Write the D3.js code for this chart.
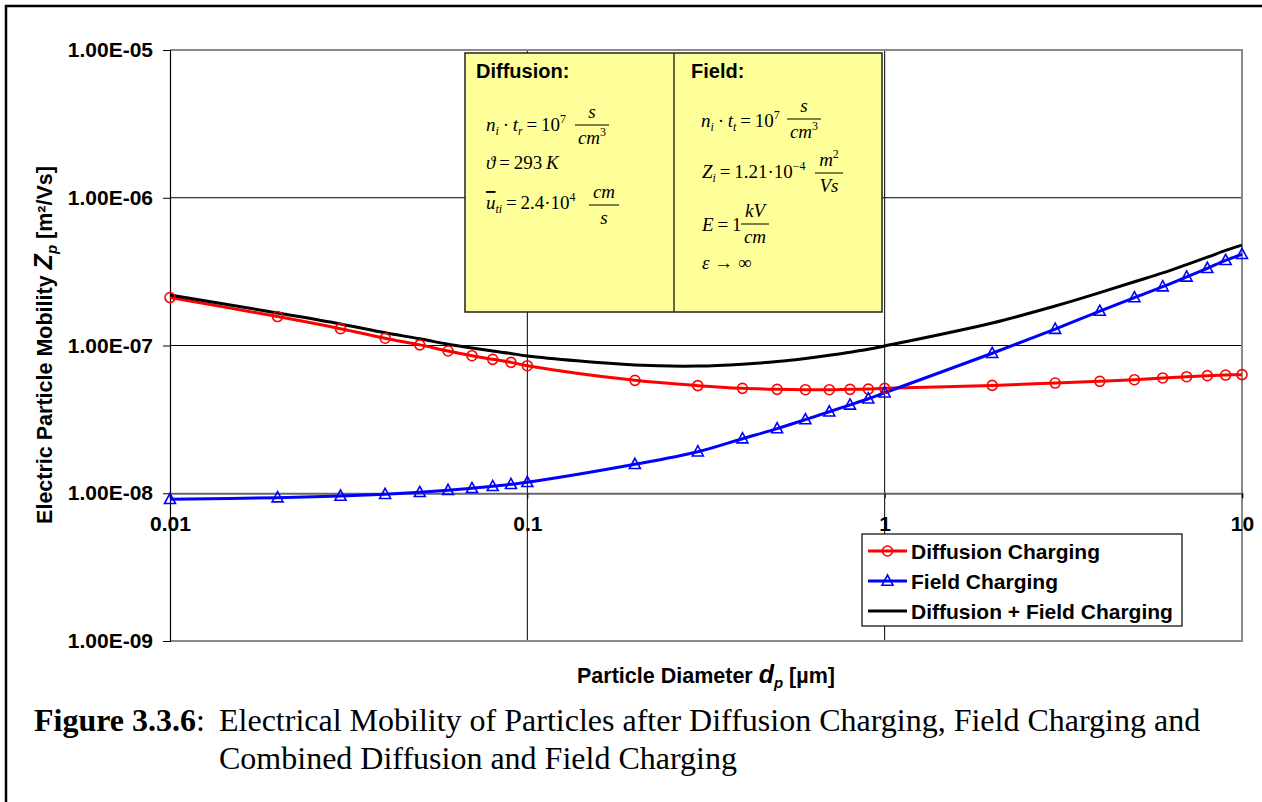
<!DOCTYPE html>
<html>
<head>
<meta charset="utf-8">
<script src="https://cdn.jsdelivr.net/npm/d3@7"></script>
<style>
  html, body { margin: 0; padding: 0; background: #fff; }
  svg { display: block; }
</style>
</head>
<body>
<script>
// Particle diameter d_p [µm]
const diameters = [0.01, 0.02, 0.03, 0.04, 0.05, 0.06, 0.07, 0.08, 0.09, 0.1,
                   0.2, 0.3, 0.4, 0.5, 0.6, 0.7, 0.8, 0.9, 1,
                   2, 3, 4, 5, 6, 7, 8, 9, 10];
// Electric mobility Z_p [m²/Vs]
const diffusionZp = [2.11e-7, 1.57e-7, 1.30e-7, 1.12e-7, 1.01e-7, 9.18e-8, 8.53e-8, 8.06e-8, 7.69e-8, 7.30e-8,
                     5.81e-8, 5.35e-8, 5.13e-8, 5.05e-8, 5.02e-8, 5.02e-8, 5.05e-8, 5.07e-8, 5.13e-8,
                     5.37e-8, 5.57e-8, 5.72e-8, 5.87e-8, 6.03e-8, 6.15e-8, 6.25e-8, 6.31e-8, 6.35e-8];
const fieldZp = [9.10e-9, 9.33e-9, 9.58e-9, 9.84e-9, 1.014e-8, 1.047e-8, 1.08e-8, 1.114e-8, 1.149e-8, 1.186e-8,
                 1.57e-8, 1.91e-8, 2.34e-8, 2.74e-8, 3.15e-8, 3.56e-8, 3.96e-8, 4.36e-8, 4.79e-8,
                 8.86e-8, 1.29e-7, 1.71e-7, 2.11e-7, 2.50e-7, 2.91e-7, 3.33e-7, 3.77e-7, 4.14e-7];
const combinedZp = [2.20e-7, 1.66e-7, 1.40e-7, 1.22e-7, 1.11e-7, 1.02e-7, 9.61e-8, 9.17e-8, 8.84e-8, 8.49e-8,
                    7.38e-8, 7.26e-8, 7.47e-8, 7.79e-8, 8.17e-8, 8.58e-8, 9.01e-8, 9.43e-8, 9.92e-8,
                    1.42e-7, 1.85e-7, 2.28e-7, 2.70e-7, 3.10e-7, 3.53e-7, 3.96e-7, 4.40e-7, 4.78e-7];

const yTicks = [1e-9, 1e-8, 1e-7, 1e-6, 1e-5];
const yTickLabels = ["1.00E-09", "1.00E-08", "1.00E-07", "1.00E-06", "1.00E-05"];
const xTicks = [0.01, 0.1, 1, 10];
const xTickLabels = ["0.01", "0.1", "1", "10"];

const seriesNames = ["Diffusion Charging", "Field Charging", "Diffusion + Field Charging"];

const W = 1262, H = 802;
const SANS = "'Liberation Sans', Arial, sans-serif";
const SERIF = "'Liberation Serif', 'Times New Roman', serif";
const TS = "\u2009"; // thin space used inside formulas

const svg = d3.select("body").append("svg").attr("width", W).attr("height", H);

// frame around the figure
svg.append("rect").attr("x", 6).attr("y", 6).attr("width", W + 20).attr("height", H + 20)
  .attr("fill", "none").attr("stroke", "#000").attr("stroke-width", 2.5);

const x = d3.scaleLog().domain([0.01, 10]).range([170, 1242]);
const y = d3.scaleLog().domain([1e-9, 1e-5]).range([641, 50]);

// grid lines
const grid = svg.append("g");
grid.selectAll(".hg").data([1e-7, 1e-6]).join("line")
  .attr("x1", x(0.01)).attr("x2", x(10))
  .attr("y1", d => y(d)).attr("y2", d => y(d))
  .attr("stroke", "#000").attr("stroke-width", 1);
grid.selectAll(".vg").data([0.1, 1]).join("line")
  .attr("x1", d => x(d)).attr("x2", d => x(d))
  .attr("y1", y(1e-5)).attr("y2", y(1e-9))
  .attr("stroke", "#000").attr("stroke-width", 1);

// plot area border (top, right, bottom)
const border = svg.append("g").attr("stroke", "#8a8a8a").attr("stroke-width", 2).attr("fill", "none");
border.append("path").attr("d", `M${x(0.01)},${y(1e-5)}H${x(10)}V${y(1e-9)}H${x(0.01)}`);

// y axis
const yAxis = svg.append("g").attr("transform", `translate(${x(0.01)},0)`)
  .call(d3.axisLeft(y).tickValues(yTicks).tickFormat((d, i) => yTickLabels[i]).tickSize(7).tickPadding(10));
yAxis.select(".domain").attr("stroke", "#000").attr("stroke-width", 1.2);
yAxis.selectAll(".tick line").attr("stroke", "#000");
yAxis.selectAll(".tick text").attr("font-family", SANS).attr("font-weight", "bold")
  .attr("font-size", 21).attr("fill", "#000");

// x axis crossing at 1e-8
const xAxis = svg.append("g").attr("transform", `translate(0,${y(1e-8)})`)
  .call(d3.axisBottom(x).tickValues(xTicks).tickFormat((d, i) => xTickLabels[i]).tickSize(5).tickPadding(18));
xAxis.select(".domain").attr("stroke", "#666").attr("stroke-width", 2);
xAxis.selectAll(".tick line").attr("stroke", "#000");
xAxis.selectAll(".tick text").attr("font-family", SANS).attr("font-weight", "bold")
  .attr("font-size", 21).attr("fill", "#000");

// axis titles
const yTitle = svg.append("text")
  .attr("transform", `translate(52,345) rotate(-90)`)
  .attr("text-anchor", "middle")
  .attr("font-family", SANS).attr("font-weight", "bold").attr("font-size", 21.5);
yTitle.append("tspan").text("Electric Particle Mobility  ");
yTitle.append("tspan").attr("font-style", "italic").attr("font-size", 25).text("Z");
yTitle.append("tspan").attr("font-style", "italic").attr("font-size", 15).attr("dy", 5).text("p");
yTitle.append("tspan").attr("dy", -5).text("  [m²/Vs]");

const xTitle = svg.append("text")
  .attr("x", 706).attr("y", 683).attr("text-anchor", "middle")
  .attr("font-family", SANS).attr("font-weight", "bold").attr("font-size", 21.5);
xTitle.append("tspan").text("Particle Diameter ");
xTitle.append("tspan").attr("font-style", "italic").attr("font-size", 25).text("d");
xTitle.append("tspan").attr("font-style", "italic").attr("font-size", 15).attr("dy", 5).text("p");
xTitle.append("tspan").attr("dy", -5).text("  [µm]");

// series
const line = d3.line().x(d => x(d[0])).y(d => y(d[1])).curve(d3.curveCatmullRom.alpha(0.5));
const series = [
  { name: seriesNames[0], values: diffusionZp, color: "#ff0000", marker: "circle" },
  { name: seriesNames[1], values: fieldZp, color: "#0000ff", marker: "triangle" },
  { name: seriesNames[2], values: combinedZp, color: "#000000", marker: null }
];

const plot = svg.append("g");
series.forEach(s => {
  const pts = diameters.map((d, i) => [d, s.values[i]]);
  plot.append("path").datum(pts).attr("d", line)
    .attr("fill", "none").attr("stroke", s.color).attr("stroke-width", 3)
    .attr("stroke-linejoin", "round");
});

function drawMarker(g, kind, cx, cy, color) {
  if (kind === "circle") {
    g.append("circle").attr("cx", cx).attr("cy", cy).attr("r", 5)
      .attr("fill", "none").attr("stroke", color).attr("stroke-width", 1.6);
  } else if (kind === "triangle") {
    g.append("path")
      .attr("d", `M${cx},${cy - 6}L${cx + 5.5},${cy + 4.2}L${cx - 5.5},${cy + 4.2}Z`)
      .attr("fill", "none").attr("stroke", color).attr("stroke-width", 1.6);
  }
}
series.forEach(s => {
  if (!s.marker) return;
  diameters.forEach((d, i) => drawMarker(plot, s.marker, x(d), y(s.values[i]), s.color));
});

// parameter box
const box = svg.append("g");
box.append("rect").attr("x", 465).attr("y", 53).attr("width", 417).attr("height", 259)
  .attr("fill", "#ffff99").attr("stroke", "#222").attr("stroke-width", 1.5);
box.append("line").attr("x1", 674).attr("x2", 674).attr("y1", 53).attr("y2", 312)
  .attr("stroke", "#333").attr("stroke-width", 1.5);
box.append("text").attr("x", 476).attr("y", 78).attr("font-family", SANS).attr("font-weight", "bold")
  .attr("font-size", 20).text("Diffusion:");
box.append("text").attr("x", 691).attr("y", 78).attr("font-family", SANS).attr("font-weight", "bold")
  .attr("font-size", 20).text("Field:");

// formula runs: [text, style] where style may contain i (italic), sub, sup, over
function formula(x0, y0, parts) {
  const t = box.append("text").attr("x", x0).attr("y", y0)
    .attr("font-family", SERIF).attr("font-size", 19).attr("fill", "#000");
  let shift = 0;
  parts.forEach(p => {
    const [txt, st = ""] = p;
    const ts = t.append("tspan").text(txt);
    let target = 0;
    if (st.includes("sub")) { target = 4; ts.attr("font-size", 12); }
    if (st.includes("sup")) { target = -8; ts.attr("font-size", 12); }
    if (target !== shift) { ts.attr("dy", target - shift); shift = target; }
    if (st.includes("i")) ts.attr("font-style", "italic");
    if (st.includes("over")) ts.attr("text-decoration", "overline");
  });
  return t;
}
function fraction(cx, yLine, num, den, w) {
  formula(cx, yLine - 7, num).attr("text-anchor", "middle");
  formula(cx, yLine + 19, den).attr("text-anchor", "middle");
  box.append("line").attr("x1", cx - w / 2).attr("x2", cx + w / 2)
    .attr("y1", yLine).attr("y2", yLine).attr("stroke", "#000").attr("stroke-width", 1);
}

// diffusion parameters
formula(486, 131, [["n", "i"], ["i", "i sub"], [TS + "·" + TS], ["t", "i"], ["r", "i sub"], [TS + "=" + TS + "10"], ["7", "sup"]]);
fraction(592, 125, [["s", "i"]], [["cm", "i"], ["3", "sup"]], 34);
formula(486, 169, [["ϑ", "i"], [TS + "=" + TS + "293" + TS], ["K", "i"]]);
formula(486, 209, [["u", "i over"], ["ti", "i sub"], [TS + "=" + TS + "2.4·10"], ["4", "sup"]]);
fraction(604, 205, [["cm", "i"]], [["s", "i"]], 30);

// field parameters
formula(701, 127, [["n", "i"], ["i", "i sub"], [TS + "·" + TS], ["t", "i"], ["t", "i sub"], [TS + "=" + TS + "10"], ["7", "sup"]]);
fraction(804, 119, [["s", "i"]], [["cm", "i"], ["3", "sup"]], 34);
formula(702, 178, [["Z", "i"], ["i", "i sub"], [TS + "=" + TS + "1.21·10"], ["−4", "sup"]]);
fraction(829, 173, [["m", "i"], ["2", "sup"]], [["Vs", "i"]], 28);
formula(702, 231, [["E", "i"], [TS + "=" + TS + "1"]]);
fraction(755, 224, [["kV", "i"]], [["cm", "i"]], 28);
formula(702, 269, [["ε", "i"], [" → ∞"]]);

// legend
const legend = svg.append("g");
legend.append("rect").attr("x", 862).attr("y", 534).attr("width", 320).attr("height", 92)
  .attr("fill", "#fff").attr("stroke", "#000").attr("stroke-width", 1.2);
series.forEach((s, i) => {
  const ly = 551 + i * 30;
  legend.append("line").attr("x1", 868).attr("x2", 907).attr("y1", ly).attr("y2", ly)
    .attr("stroke", s.color).attr("stroke-width", 3);
  if (s.marker) drawMarker(legend, s.marker, 887.5, ly, s.color);
  legend.append("text").attr("x", 911).attr("y", ly + 7.5)
    .attr("font-family", SANS).attr("font-weight", "bold").attr("font-size", 21)
    .attr("fill", "#000").text(s.name);
});

// caption
const cap = svg.append("g").attr("font-family", SERIF).attr("font-size", 32).attr("fill", "#000");
const c1 = cap.append("text").attr("x", 34).attr("y", 731);
c1.append("tspan").attr("font-weight", "bold").text("Figure 3.3.6");
c1.append("tspan").text(":");
c1.append("tspan").attr("x", 219).text("Electrical Mobility of Particles after Diffusion Charging, Field Charging and");
cap.append("text").attr("x", 219).attr("y", 769).text("Combined Diffusion and Field Charging");
</script>
</body>
</html>
